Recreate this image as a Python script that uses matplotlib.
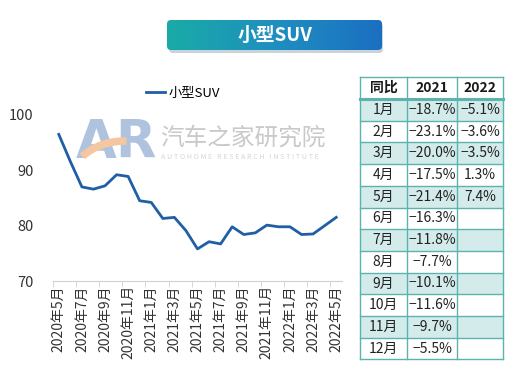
import numpy as np
import matplotlib
matplotlib.use("Agg")
import matplotlib.pyplot as plt
from matplotlib.patches import Rectangle, FancyBboxPatch, Arc

plt.rcParams['font.family'] = ['Noto Sans CJK SC', 'DejaVu Sans']

# data
months = ["2020年5月", "2020年6月", "2020年7月", "2020年8月", "2020年9月", "2020年10月",
          "2020年11月", "2020年12月", "2021年1月", "2021年2月", "2021年3月", "2021年4月",
          "2021年5月", "2021年6月", "2021年7月", "2021年8月", "2021年9月", "2021年10月",
          "2021年11月", "2021年12月", "2022年1月", "2022年2月", "2022年3月", "2022年4月",
          "2022年5月"]
suv = [96.5, 91.6, 87.0, 86.6, 87.2, 89.2, 88.9, 84.5, 84.2, 81.3, 81.5, 79.1,
       75.8, 77.1, 76.7, 79.8, 78.4, 78.7, 80.1, 79.8, 79.8, 78.4, 78.5, 80.0, 81.5]

tbl_months = ["1月", "2月", "3月", "4月", "5月", "6月", "7月", "8月", "9月", "10月", "11月", "12月"]
yoy_2021 = ["−18.7%", "−23.1%", "−20.0%", "−17.5%", "−21.4%", "−16.3%",
            "−11.8%", "−7.7%", "−10.1%", "−11.6%", "−9.7%", "−5.5%"]
yoy_2022 = ["−5.1%", "−3.6%", "−3.5%", "1.3%", "7.4%", "", "", "", "", "", "", ""]

W, H = 524, 374
fig = plt.figure(figsize=(W / 100, H / 100), dpi=100)

# overlay in pixel coords for banner, watermark, table
bg = fig.add_axes([0, 0, 1, 1], zorder=0)
bg.axis('off')

# banner
shadow = FancyBboxPatch((169, 23), 214, 30, boxstyle="round,pad=0,rounding_size=4",
                        fc="#c9d3dc", ec="none", zorder=1)
bg.add_patch(shadow)
banner = FancyBboxPatch((167, 20), 215, 30, boxstyle="round,pad=0,rounding_size=4",
                        fc="none", ec="none", zorder=2)
bg.add_patch(banner)
grad = np.linspace(0, 1, 256).reshape(1, -1)
cmap = matplotlib.colors.LinearSegmentedColormap.from_list("b", ["#19aba6", "#1f8fc0", "#1b6fc2"])
im = bg.imshow(grad, extent=(167, 382, 50, 20), cmap=cmap, aspect='auto', zorder=2)
im.set_clip_path(banner)
bg.text(275, 35, "小型SUV", color="white", fontsize=13.5, fontweight='bold',
        ha='center', va='center', zorder=3)
bg.set_xlim(0, W)
bg.set_ylim(H, 0)

# watermark
bg.text(76, 143, "AR", color="#b0c3de", fontsize=38, fontweight='bold', family='DejaVu Sans',
        ha='left', va='center', zorder=1)
bg.add_patch(Arc((125, 183), 110, 84, theta1=212, theta2=272, color="#f5c7a0", lw=5.5, zorder=1.5))
bg.text(160, 138, "汽车之家研究院", color="#c9c9c9", fontsize=17, ha='left', va='center', zorder=1)
bg.text(161, 157, "A U T O H O M E   R E S E A R C H   I N S T I T U T E", color="#d6d6d6",
        fontsize=5.2, ha='left', va='center', zorder=1)

# table
col_x = [360, 407, 457, 503]
top, head_h, row_h = 77, 22, 21.7
edge = "#5cb3ad"
fill = "#d3ebea"
headers = ["同比", "2021", "2022"]
for j, h in enumerate(headers):
    bg.text((col_x[j] + col_x[j + 1]) / 2, top + head_h / 2, h, fontsize=10, fontweight='bold',
            ha='center', va='center', color="#1a1a1a")
for i in range(len(tbl_months)):
    y0 = top + head_h + i * row_h
    if i % 2 == 0:
        bg.add_patch(Rectangle((col_x[0], y0), col_x[-1] - col_x[0], row_h, fc=fill, ec="none", zorder=1))
    vals = [tbl_months[i], yoy_2021[i], yoy_2022[i]]
    for j, v in enumerate(vals):
        bg.text((col_x[j] + col_x[j + 1]) / 2, y0 + row_h / 2, v, fontsize=10,
                ha='center', va='center', color="#222222", zorder=3)
bottom = top + head_h + len(tbl_months) * row_h
for x in col_x:
    bg.plot([x, x], [top, bottom], color=edge, lw=1, zorder=2)
for i in range(len(tbl_months) + 2):
    y = top if i == 0 else top + head_h + (i - 1) * row_h
    bg.plot([col_x[0], col_x[-1]], [y, y], color=edge, lw=2.2 if i == 1 else 1, zorder=2)

# line chart
ax = fig.add_axes([53 / W, 1 - 281 / H, (342 - 53) / W, (281 - 115) / H], zorder=2)
ax.patch.set_alpha(0)
x = np.arange(len(suv))
ax.plot(x, suv, color="#1f5fa6", lw=2, label="小型SUV")
ax.set_xlim(-0.5, len(suv) - 0.5)
ax.set_ylim(70, 100)
ax.set_yticks([70, 80, 90, 100])
ax.set_xticks(x[::2])
ax.set_xticklabels(months[::2], rotation=90, fontsize=10, color="#333333")
ax.set_xticks(np.arange(-0.5, len(suv), 2), minor=True)
ax.tick_params(axis='x', which='major', length=0, pad=3)
ax.tick_params(axis='x', which='minor', length=4, color="#d0d0d0")
ax.tick_params(axis='y', length=0, labelsize=10.5, labelcolor="#333333", pad=14)
for s in ['top', 'right', 'left']:
    ax.spines[s].set_visible(False)
ax.spines['bottom'].set_color("#d0d0d0")
ax.legend(loc='center', bbox_to_anchor=(183 / W, 1 - 93 / H), bbox_transform=fig.transFigure,
          frameon=False, fontsize=9.5, handlelength=1.4, handletextpad=0.3)

fig.savefig("out.png", dpi=100)
